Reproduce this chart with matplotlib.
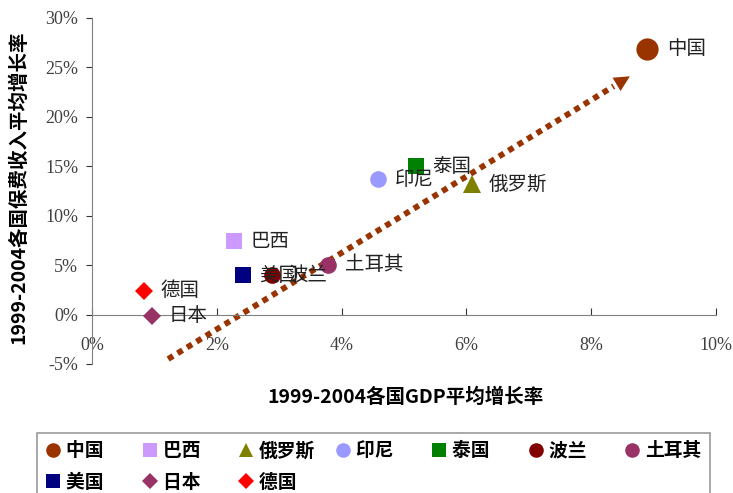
import matplotlib
matplotlib.use("Agg")
import matplotlib.pyplot as plt
from matplotlib.ticker import FuncFormatter

plt.rcParams['font.family'] = ['Noto Sans CJK SC', 'DejaVu Sans']

# data: GDP growth (%), premium growth (%)
countries = ['中国', '巴西', '俄罗斯', '印尼', '泰国', '波兰', '土耳其', '美国', '日本', '德国']
gdp = [8.89, 2.28, 6.09, 4.58, 5.19, 2.88, 3.78, 2.42, 0.96, 0.83]
premium = [26.9, 7.4, 13.2, 13.7, 15.0, 4.0, 5.05, 4.0, -0.1, 2.4]
markers = ['o', 's', '^', 'o', 's', 'o', 'o', 's', 'D', 'D']
colors = ['#993300', '#CC99FF', '#808000', '#9999FF', '#008000',
          '#800000', '#993366', '#000080', '#993366', '#FF0000']
sizes = [16, 12, 13, 12, 12, 12, 12, 12, 9, 9]

trend_x = [1.22, 8.62]
trend_y = [-4.5, 24.1]

fig = plt.figure(figsize=(7.33, 4.93), dpi=100)
ax = fig.add_axes([0.1255, 0.2617, 0.8513, 0.7018])

handles = []
for name, x, y, m, c, s in zip(countries, gdp, premium, markers, colors, sizes):
    h, = ax.plot(x, y, marker=m, color=c, markersize=s, linestyle='none',
                 markeredgewidth=0, label=name, zorder=3)
    handles.append(h)
    ax.annotate(name, (x, y), xytext=(12 if s < 14 else 15, 0),
                textcoords='offset points', va='center', ha='left',
                fontsize=14, color='#222222', zorder=4)

# trend arrow
ax.plot([trend_x[0], trend_x[0] + 0.965 * (trend_x[1] - trend_x[0])],
        [trend_y[0], trend_y[0] + 0.965 * (trend_y[1] - trend_y[0])],
        color='#993300', lw=4.2, linestyle=(0, (1, 0.9)),
        dash_capstyle='butt', zorder=2)
ax.annotate('', xy=(trend_x[1], trend_y[1]),
            xytext=(trend_x[1] - 0.25, trend_y[1] - 0.95),
            arrowprops=dict(arrowstyle='-|>', color='#993300', lw=0,
                            mutation_scale=28, shrinkA=0, shrinkB=0),
            zorder=2)

ax.set_xlim(0, 10)
ax.set_ylim(-5, 30)
ax.set_xticks([0, 2, 4, 6, 8, 10])
ax.set_yticks(range(-5, 31, 5))
ax.xaxis.set_major_formatter(FuncFormatter(lambda v, p: f'{v:.0f}%'))
ax.yaxis.set_major_formatter(FuncFormatter(lambda v, p: f'{v:.0f}%'))

for s in ['top', 'right']:
    ax.spines[s].set_visible(False)
ax.spines['left'].set_position(('data', 0))
ax.spines['bottom'].set_position(('data', 0))
ax.spines['left'].set_color('#808080')
ax.spines['bottom'].set_color('#808080')
ax.tick_params(axis='y', direction='out', length=4, color='#333333', pad=6,
               labelsize=13, labelcolor='#404040')
ax.tick_params(axis='x', direction='in', length=5, color='#333333', pad=16,
               labelsize=13, labelcolor='#404040')
for lab in ax.get_xticklabels() + ax.get_yticklabels():
    lab.set_family(['Liberation Serif', 'DejaVu Serif'])

fig.text(0.553, 0.195, '1999-2004各国GDP平均增长率', ha='center', va='center',
         fontsize=14, fontweight='bold')
fig.text(0.025, 0.62, '1999-2004各国保费收入平均增长率', ha='center', va='center',
         rotation=90, fontsize=14, fontweight='bold')

# legend: reorder so rows read 中国..土耳其 / 美国 日本 德国
order = [0, 7, 1, 8, 2, 9, 3, 4, 5, 6]
leg_labels = [countries[i] if i == 6 else countries[i].ljust(3, '\u3000')
              for i in order]
leg = fig.legend([handles[i] for i in order], leg_labels,
                 ncol=7, loc='upper left', bbox_to_anchor=(0.0505, 0.1217),
                 frameon=True, fancybox=False, edgecolor='#808080',
                 prop={'size': 13.5, 'weight': 'bold'}, handletextpad=0.3,
                 columnspacing=1.05, handlelength=0.8, borderpad=0.45,
                 labelspacing=0.65, borderaxespad=0)
leg.get_frame().set_linewidth(1.2)
for lh in leg.legend_handles:
    lh.set_markersize(10.5 if lh.get_marker() != 'D' else 8)

fig.savefig('out.png', dpi=100)
